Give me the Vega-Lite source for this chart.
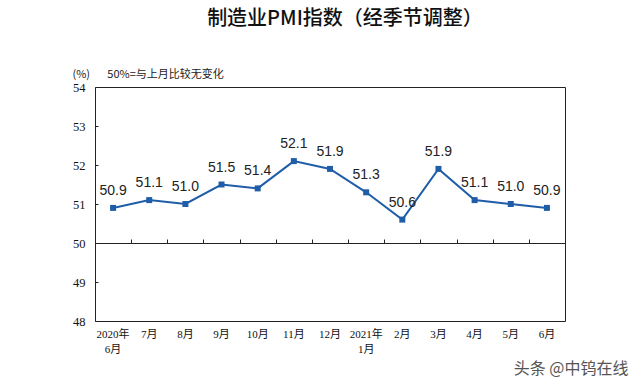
{
  "$schema": "https://vega.github.io/schema/vega-lite/v6.json",
  "width": 470,
  "height": 234,
  "autosize": {"type": "none"},
  "padding": {"left": 95, "top": 87, "right": 75, "bottom": 63},
  "background": "white",
  "title": {
    "text": "制造业PMI指数（经季节调整）",
    "frame": "group",
    "anchor": "middle",
    "dx": 15,
    "offset": 39,
    "fontSize": 20,
    "font": "Noto Sans CJK SC",
    "fontWeight": 500,
    "color": "#111"
  },
  "config": {
    "view": {"stroke": "#222", "strokeWidth": 1}
  },
  "data": {
    "values": [
      {"month": "2020年6月", "pmi": 50.9},
      {"month": "7月", "pmi": 51.1},
      {"month": "8月", "pmi": 51.0},
      {"month": "9月", "pmi": 51.5},
      {"month": "10月", "pmi": 51.4},
      {"month": "11月", "pmi": 52.1},
      {"month": "12月", "pmi": 51.9},
      {"month": "2021年1月", "pmi": 51.3},
      {"month": "2月", "pmi": 50.6},
      {"month": "3月", "pmi": 51.9},
      {"month": "4月", "pmi": 51.1},
      {"month": "5月", "pmi": 51.0},
      {"month": "6月", "pmi": 50.9}
    ]
  },
  "layer": [
    {
      "mark": {
        "type": "line",
        "color": "#1F5DA8",
        "strokeWidth": 2,
        "point": {"shape": "square", "size": 36, "filled": true, "color": "#1F5DA8", "opacity": 1}
      },
      "encoding": {
        "x": {
          "field": "month",
          "type": "nominal",
          "sort": null,
          "scale": {"type": "band", "paddingInner": 0, "paddingOuter": 0},
          "axis": {
            "orient": "bottom",
            "title": "头条 @中钨在线",
            "titleX": 533,
            "titleY": 52,
            "titleAlign": "right",
            "titleBaseline": "alphabetic",
            "titleFont": "Noto Sans CJK SC",
            "titleFontSize": 16,
            "titleFontWeight": "normal",
            "titleColor": "#555",
            "domain": false,
            "ticks": false,
            "tickSize": 0,
            "labelAngle": 0,
            "labelPadding": 7,
            "labelFont": "Liberation Serif, Noto Sans CJK SC",
            "labelFontSize": 11,
            "labelColor": "#111",
            "labelLineHeight": 15,
            "labelExpr": "indexof(datum.value,'年')>0 ? [slice(datum.value,0,5), slice(datum.value,5)] : datum.value"
          }
        },
        "y": {
          "field": "pmi",
          "type": "quantitative",
          "scale": {"domain": [48, 54], "nice": false, "zero": false},
          "axis": {
            "values": [48, 49, 50, 51, 52, 53, 54],
            "labelOverlap": false,
            "grid": false,
            "domain": false,
            "tickSize": -3,
            "tickColor": "#222",
            "labelPadding": 13,
            "labelFont": "Liberation Serif",
            "labelFontSize": 12.5,
            "labelColor": "#111",
            "title": "(%)\u00a0\u00a0\u00a0\u00a0\u00a0\u00a0\u00a050%=与上月比较无变化",
            "titleAngle": 0,
            "titleAlign": "left",
            "titleBaseline": "alphabetic",
            "titleX": -23,
            "titleY": -10,
            "titleFont": "Noto Sans CJK SC",
            "titleFontSize": 11,
            "titleFontWeight": "normal",
            "titleColor": "#222"
          }
        }
      }
    },
    {
      "mark": {"type": "text", "dy": -17, "font": "Liberation Sans", "fontSize": 14, "color": "#222"},
      "encoding": {
        "x": {
          "field": "month",
          "type": "nominal",
          "sort": null,
          "axis": {
            "orient": "top",
            "offset": -156,
            "labels": false,
            "title": null,
            "domain": true,
            "domainColor": "#222",
            "ticks": true,
            "tickSize": 4,
            "tickColor": "#222",
            "tickBand": "extent"
          }
        },
        "y": {"field": "pmi", "type": "quantitative", "axis": null},
        "text": {"field": "pmi", "type": "quantitative", "format": ".1f"}
      }
    }
  ],
  "resolve": {"axis": {"x": "independent", "y": "independent"}}
}
